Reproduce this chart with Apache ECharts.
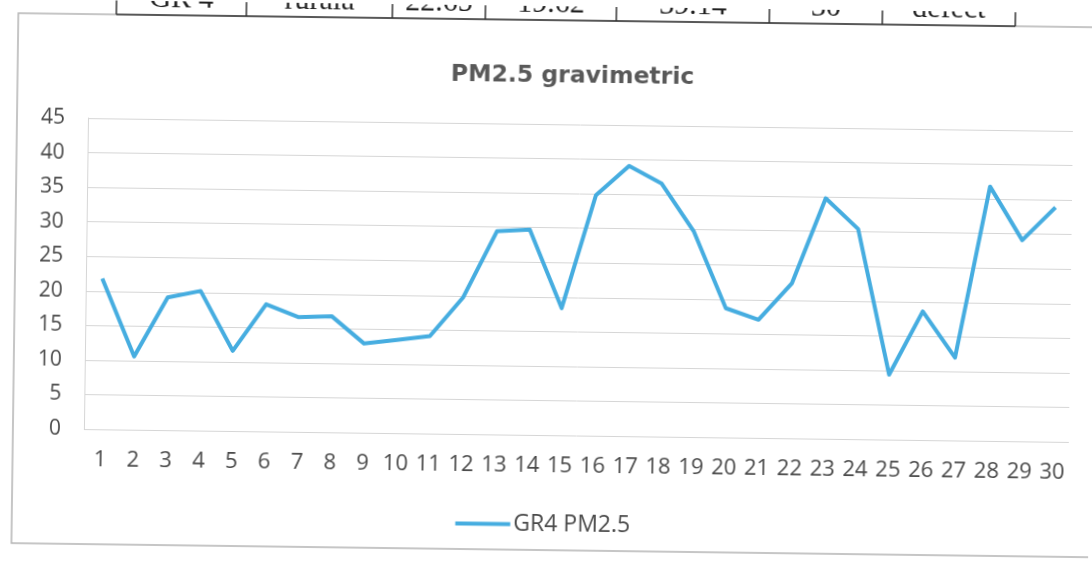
<!DOCTYPE html>
<html>
<head>
<meta charset="utf-8">
<script src="https://cdn.jsdelivr.net/npm/echarts@6/dist/echarts.min.js"></script>
<style>
  html, body { margin: 0; padding: 0; background: #fff; overflow: hidden; }
  /* 原图是扫描件,整体顺时针歪了约 0.75 度 */
  #chart { width: 1092px; height: 562px; transform: rotate(0.75deg); transform-origin: 80px 270px; }
</style>
</head>
<body>
<div id="chart"></div>
<script>
// 数据:30 个采样日的 PM2.5 重量法读数
const days = Array.from({ length: 30 }, (_, i) => String(i + 1))
const pm25 = [21.8, 10.6, 19.2, 20.2, 11.6, 18.4, 16.6, 16.8, 12.9, 13.5,
  14.1, 19.8, 29.4, 29.7, 18.4, 34.8, 39.1, 36.6, 29.7, 18.7,
  17.1, 22.4, 34.8, 30.4, 9.4, 18.6, 12.0, 36.8, 29.1, 33.9]
const yTicks = { min: 0, max: 45, interval: 5 }

// 顶部被裁掉的表格行
const tableCells = ['GR 4', 'rurala', '22.65', '19.62', '39.14', '30', 'defect']
const tableEdges = [113, 243, 389, 482, 613, 766, 879, 1012]

const C = {
  line: '#46ade0', ink: '#4a4a4a', title: '#595959',
  grid: '#d6d6d6', frame: '#b4b4b4', table: '#333',
}

const chart = echarts.init(document.getElementById('chart'), null, { renderer: 'canvas' })

const tableGraphics = []
tableEdges.forEach(x => tableGraphics.push({
  type: 'line', shape: { x1: x, y1: -20, x2: x, y2: 14 },
  style: { stroke: C.table, lineWidth: 1.5 },
}))
tableGraphics.push({
  type: 'line', shape: { x1: tableEdges[0], y1: 14, x2: tableEdges[tableEdges.length - 1], y2: 14 },
  style: { stroke: C.table, lineWidth: 1.5 },
})
tableCells.forEach((t, i) => tableGraphics.push({
  type: 'text',
  x: (tableEdges[i] + tableEdges[i + 1]) / 2, y: 13,
  style: {
    text: t, fill: '#222', fontFamily: 'Liberation Serif', fontSize: 30,
    align: 'center', verticalAlign: 'bottom',
  },
}))

chart.setOption({
  backgroundColor: '#ffffff',
  animation: false,
  title: {
    text: 'PM2.5 gravimetric', left: 565, top: 53, textAlign: 'center',
    textStyle: { fontFamily: 'DejaVu Sans', fontWeight: 'bold', fontSize: 23.5, color: C.title },
  },
  graphic: [
    // 图表外框
    { type: 'rect', shape: { x: 15, y: 14, width: 1100, height: 530 },
      style: { fill: 'none', stroke: C.frame, lineWidth: 1.5 } },
    ...tableGraphics,
  ],
  legend: {
    data: ['GR4 PM2.5'], left: 'center', top: 502,
    icon: 'rect', itemWidth: 55, itemHeight: 4, itemGap: 4,
    textStyle: { fontFamily: 'Open Sans', fontSize: 23, color: C.ink, padding: [0, 0, 0, -2] },
  },
  grid: { left: 86, right: 21, top: 118, bottom: 133, containLabel: false },
  xAxis: {
    type: 'category', data: days, boundaryGap: true,
    axisLine: { show: false }, axisTick: { show: false },
    axisLabel: { color: C.ink, fontFamily: 'Open Sans', fontSize: 22, margin: 20, interval: 0 },
    splitLine: { show: false },
  },
  yAxis: {
    type: 'value', ...yTicks,
    axisLine: { show: true, lineStyle: { color: C.grid } },
    axisTick: { show: false },
    axisLabel: { color: C.ink, fontFamily: 'Open Sans', fontSize: 21, margin: 23 },
    splitLine: { lineStyle: { color: C.grid, width: 1 } },
  },
  series: [{
    name: 'GR4 PM2.5', type: 'line', data: pm25,
    symbol: 'none', smooth: false,
    lineStyle: { color: C.line, width: 4, join: 'round' },
    itemStyle: { color: C.line },
  }],
})
</script>
</body>
</html>
